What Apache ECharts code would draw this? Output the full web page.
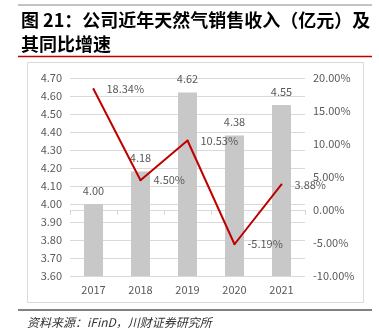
<!DOCTYPE html>
<html><head><meta charset="utf-8">
<script src="https://cdn.jsdelivr.net/npm/echarts@6/dist/echarts.min.js"></script>
<style>html,body{margin:0;padding:0;background:#fff}#c{width:379px;height:334px}</style>
</head><body><div id="c"></div>
<script>
const categories = ['2017','2018','2019','2020','2021'];
const revenue = [4.00, 4.18, 4.62, 4.38, 4.55];
const growth = [18.34, 4.50, 10.53, -5.19, 3.88];
const titleLine1 = '图 21：公司近年天然气销售收入（亿元）及';
const titleLine2 = '其同比增速';
const sourceText = '资料来源：iFinD，川财证券研究所';

const font = '"Noto Sans CJK SC", "Liberation Sans", sans-serif';
const chart = echarts.init(document.getElementById('c'), null, {renderer:'canvas'});
chart.setOption({
  animation:false,
  textStyle:{fontFamily:font},
  grid:{left:70, right:74, top:78, bottom:58},
  xAxis:{type:'category', data:categories,
    axisLine:{lineStyle:{color:'#d9d9d9'}},
    axisTick:{show:true, lineStyle:{color:'#d9d9d9'}},
    axisLabel:{color:'#595959', fontSize:11, margin:8, fontFamily:font}},
  yAxis:[
    {type:'value', min:3.6, max:4.7, interval:0.1,
      axisLine:{show:false}, axisTick:{show:false},
      splitLine:{lineStyle:{color:'#d9d9d9'}},
      axisLabel:{color:'#595959', fontSize:11, margin:8, formatter:v=>v.toFixed(2)}},
    {type:'value', min:-10, max:20, interval:5,
      axisLine:{show:false}, axisTick:{show:false}, splitLine:{show:false},
      axisLabel:{color:'#595959', fontSize:11, margin:8, formatter:v=>v.toFixed(2)+'%'}}
  ],
  series:[
    {type:'bar', data:revenue, barWidth:19, itemStyle:{color:'#c8c8c8'},
      label:{show:true, position:'top', distance:8, color:'#595959', fontSize:11, formatter:p=>p.value.toFixed(2)}},
    {type:'line', yAxisIndex:1, data:growth, symbol:'circle', symbolSize:2, showSymbol:true,
      itemStyle:{color:'#c00000', borderWidth:0},
      lineStyle:{color:'#c00000', width:2},
      label:{show:true, position:'right', distance:12, color:'#595959', fontSize:11, formatter:p=>p.value.toFixed(2)+'%'}}
  ],
  graphic:[
    {type:'line', shape:{x1:18,y1:5,x2:372,y2:5}, style:{stroke:'#888', lineWidth:1}},
    {type:'text', left:21, top:11, style:{text:titleLine1, font:'bold 18px '+font, fill:'#000'}},
    {type:'text', left:21, top:35, style:{text:titleLine2, font:'bold 18px '+font, fill:'#000'}},
    {type:'line', shape:{x1:18,y1:56.5,x2:372,y2:56.5}, style:{stroke:'#c00000', lineWidth:1.5}},
    {type:'rect', shape:{x:27.5,y:62.5,width:336,height:240}, style:{fill:'none', stroke:'#d9d9d9', lineWidth:1}, z:-1},
    {type:'line', shape:{x1:18,y1:310,x2:372,y2:310}, style:{stroke:'#595959', lineWidth:1.5}},
    {type:'text', left:27, top:316, style:{text:sourceText, font:'italic 12px '+font, fill:'#333'}}
  ]
});
</script></body></html>
